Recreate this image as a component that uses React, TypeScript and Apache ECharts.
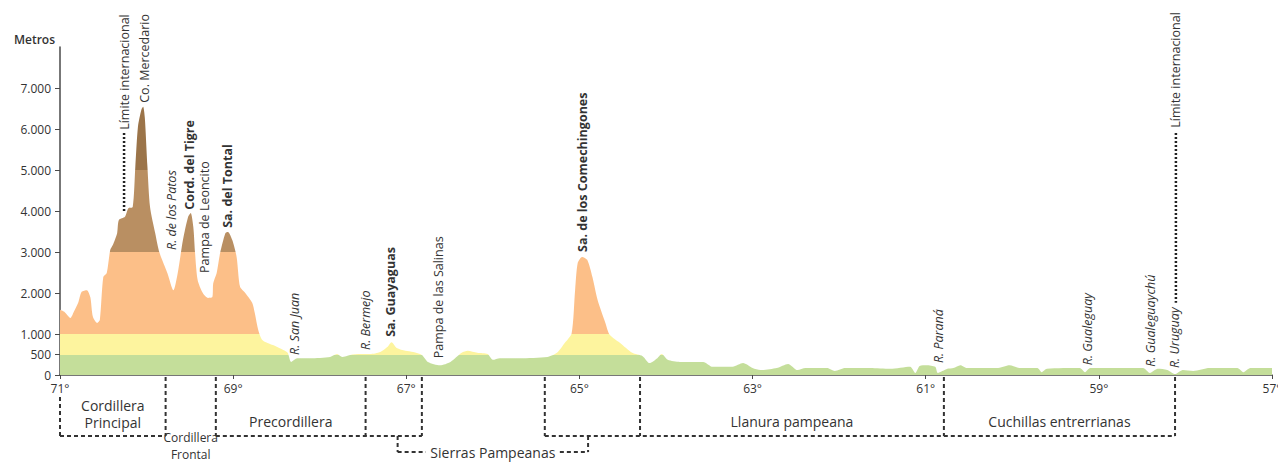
import React, { useEffect, useRef } from 'react';
import * as echarts from 'echarts';

// ---- Profile data: longitude (°W) and elevation (m) ----
const lon = [
  71.0, 70.95, 70.88, 70.84, 70.79, 70.75, 70.69, 70.65, 70.62, 70.57,
  70.54, 70.5, 70.46, 70.42, 70.39, 70.34, 70.32, 70.25, 70.21, 70.16,
  70.13, 70.1, 70.06, 70.04, 70.02, 69.99, 69.96, 69.9, 69.85, 69.76,
  69.69, 69.64, 69.58, 69.52, 69.49, 69.46, 69.44, 69.41, 69.35, 69.29,
  69.24, 69.23, 69.19, 69.15, 69.09, 69.06, 69.01, 68.96, 68.92, 68.86,
  68.78, 68.75, 68.71, 68.66, 68.54, 68.42, 68.37, 68.33, 68.26, 68.11,
  67.88, 67.8, 67.74, 67.65, 67.53, 67.42, 67.3, 67.22, 67.17, 67.11,
  67.01, 66.92, 66.82, 66.75, 66.61, 66.49, 66.36, 66.29, 66.18, 66.06,
  66.0, 65.92, 65.69, 65.37, 65.26, 65.17, 65.09, 65.05, 65.02, 64.97,
  64.91, 64.85, 64.79, 64.7, 64.65, 64.53, 64.39, 64.27, 64.19, 64.1,
  64.05, 63.98, 63.84, 63.57, 63.46, 63.23, 63.11, 63.0, 62.91, 62.72,
  62.59, 62.48, 62.39, 62.14, 62.05, 61.93, 61.64, 61.41, 61.18, 61.12,
  61.07, 60.99, 60.89, 60.86, 60.75, 60.68, 60.6, 60.52, 60.18, 60.03,
  59.91, 59.71, 59.66, 59.6, 59.22, 59.16, 59.1, 58.49, 58.41, 58.32,
  58.21, 58.12, 58.03, 57.91, 57.72, 57.4, 57.33, 57.25, 57.0
];
const elev = [
  1590, 1540, 1390, 1540, 1760, 2030, 2070, 1900, 1420, 1270,
  1340, 2390, 2490, 3050, 3170, 3460, 3780, 3860, 4070, 4100,
  5080, 6050, 6470, 6540, 6270, 5080, 4100, 3460, 2980, 2490,
  2070, 2490, 3290, 3860, 3950, 3610, 2980, 2320, 2000, 1880,
  1900, 2240, 2490, 2980, 3460, 3490, 3290, 2880, 2150, 2000,
  1760, 1510, 1100, 850, 730, 610, 540, 320, 410, 410,
  440, 510, 440, 490, 510, 510, 560, 680, 800, 660,
  590, 560, 490, 320, 240, 320, 540, 590, 540, 510,
  370, 410, 410, 440, 540, 780, 1020, 2070, 2730, 2880,
  2810, 2390, 1830, 1270, 980, 780, 540, 460, 290, 410,
  510, 370, 320, 320, 200, 200, 290, 170, 120, 170,
  270, 120, 170, 170, 100, 170, 170, 150, 200, 50,
  220, 240, 200, 50, 150, 170, 240, 170, 170, 240,
  170, 170, 70, 150, 170, 70, 170, 170, 50, 150,
  120, 20, 120, 100, 170, 170, 70, 170, 170
];

// ---- Axes ----
const xTickLon = [71, 69, 67, 65, 63, 61, 59, 57];
const yTicks = [0, 500, 1000, 2000, 3000, 4000, 5000, 6000, 7000];

// ---- Elevation bands ----
const bandMin = [0, 500, 1000, 3000, 5000];
const bandMax = [500, 1000, 3000, 5000, 9000];
const bandColor = ['#c4de9a', '#fdf49e', '#fcbf88', '#b98f62', '#9b7449'];

// ---- Place names (vertical labels): longitude, elevation of label foot ----
const placeNames = [
  'Límite internacional', 'Co. Mercedario', 'R. de los Patos', 'Cord. del Tigre',
  'Pampa de Leoncito', 'Sa. del Tontal', 'R. San Juan', 'R. Bermejo',
  'Sa. Guayaguas', 'Pampa de las Salinas', 'Sa. de los Comechingones', 'R. Paraná',
  'R. Gualeguay', 'R. Gualeguaychú', 'R. Uruguay', 'Límite internacional'
];
const placeLon = [70.26, 70.02, 69.71, 69.5, 69.33, 69.06, 68.29, 67.47, 67.18, 66.63, 64.96, 60.85, 59.13, 58.4, 58.13, 58.11];
const placeElev = [5980, 6640, 3050, 4030, 2490, 3590, 490, 610, 930, 410, 3000, 290, 240, 200, 170, 6030];
const placeKind = ['n', 'n', 'i', 'b', 'n', 'b', 'i', 'i', 'b', 'n', 'b', 'i', 'i', 'i', 'i', 'n'];

// ---- International limit leader lines ----
const limitLon = [70.26, 58.11];
const limitTop = [5900, 5900];
const limitBottom = [3950, 1760];

// ---- Physiographic regions below the axis ----
const boundaryLon = [71.0, 69.78, 69.2, 67.47, 66.82, 65.4, 64.3, 60.79, 58.12];
const regionNames = ['Cordillera\nPrincipal', 'Cordillera\nFrontal', 'Precordillera', 'Sierras Pampeanas', 'Llanura pampeana', 'Cuchillas entrerrianas'];
const regionFrom = [71.0, 69.78, 69.2, 67.1, 64.3, 60.79];
const regionTo = [69.78, 69.2, 67.47, 64.9, 60.79, 58.12];
const bottomSegFrom = [71.0, 69.2, 65.4];
const bottomSegTo = [69.78, 66.82, 58.12];

const FONT = '"Open Sans", "Noto Sans", sans-serif';
const TXT = '#333';
const AX = '#4a4a4a';

export default function App() {
  const ref = useRef<HTMLDivElement>(null);

  useEffect(() => {
    if (!ref.current) return;
    const chart = echarts.init(ref.current, null, { renderer: 'svg' });
    const data = lon.map((l, i) => [71 - l, elev[i]]);
    const option: any = {
      animation: false,
      grid: { left: 60, right: 6, top: 47, bottom: 88, outerBoundsMode: 'none' },
      xAxis: {
        type: 'value', min: 0, max: 14, interval: 2,
        axisLine: { lineStyle: { color: AX, width: 1.5 } },
        axisTick: { show: true, length: 4, lineStyle: { color: AX, width: 1 } },
        axisLabel: {
          customValues: xTickLon.map((l) => 71 - l),
          formatter: (v: number) => `${Math.round(71 - v)}°`,
          color: TXT, fontSize: 12, fontFamily: FONT, margin: 7
        },
        splitLine: { show: false }
      },
      yAxis: {
        type: 'value', min: 0, max: 8000,
        name: 'Metros', nameLocation: 'end', nameGap: 2,
        nameTextStyle: { color: TXT, fontSize: 12, fontWeight: 600, fontFamily: FONT, align: 'right', padding: [0, 5, 0, 0] },
        axisLine: { show: true, lineStyle: { color: AX, width: 1.5 } },
        axisTick: { show: true, length: 5, customValues: yTicks, lineStyle: { color: AX } },
        axisLabel: {
          customValues: yTicks,
          formatter: (v: number) => (v >= 1000 ? `${Math.floor(v / 1000)}.${String(v % 1000).padStart(3, '0')}` : `${v}`),
          color: TXT, fontSize: 12, fontFamily: FONT, margin: 9
        },
        splitLine: { show: false }
      },
      visualMap: {
        type: 'piecewise', show: false, dimension: 1, seriesIndex: 0,
        pieces: bandMin.map((m, i) => ({ gte: m, lt: bandMax[i], color: bandColor[i] }))
      },
      series: [{
        type: 'line', data, smooth: 0.25, showSymbol: false, silent: true,
        lineStyle: { width: 0, opacity: 0 },
        areaStyle: { opacity: 1 }
      }]
    };
    chart.setOption(option);

    const px = (l: number, e: number) => chart.convertToPixel({ gridIndex: 0 }, [71 - l, e]) as number[];
    const y0 = px(71, 0)[1];
    const g: any[] = [];

    // vertical place labels
    placeNames.forEach((n, i) => {
      const p = px(placeLon[i], placeElev[i]);
      g.push({
        type: 'text', x: p[0], y: p[1], rotation: Math.PI / 2, silent: true,
        style: {
          text: n, fill: TXT, fontSize: 12.5, fontFamily: FONT,
          fontWeight: placeKind[i] === 'b' ? 'bold' : 'normal',
          fontStyle: placeKind[i] === 'i' ? 'italic' : 'normal',
          align: 'left', verticalAlign: 'middle', textAlign: 'left', textVerticalAlign: 'middle'
        }
      });
    });

    // international limit dotted leaders
    limitLon.forEach((l, i) => {
      const a = px(l, limitTop[i]);
      const b = px(l, limitBottom[i]);
      g.push({ type: 'line', silent: true, shape: { x1: a[0], y1: a[1], x2: b[0], y2: b[1] }, style: { stroke: '#222', lineWidth: 2.5, lineDash: [2, 2] } });
    });

    // region boundaries
    const dash = { stroke: '#333', lineWidth: 2, lineDash: [4, 3] };
    const yBox = y0 + 61;
    boundaryLon.forEach((l, i) => {
      const x = px(l, 0)[0];
      g.push({ type: 'line', silent: true, shape: { x1: x, y1: i === 0 ? y0 + 22 : y0 + 2, x2: x, y2: yBox }, style: dash });
    });
    bottomSegFrom.forEach((l, i) => {
      const a = px(l, 0)[0];
      const b = px(bottomSegTo[i], 0)[0];
      g.push({ type: 'line', silent: true, shape: { x1: a, y1: yBox, x2: b, y2: yBox }, style: dash });
    });

    // Sierras Pampeanas bracket
    const sA = px(regionFrom[3], 0)[0];
    const sB = px(regionTo[3], 0)[0];
    const yBr = y0 + 77;
    const sMid = (sA + sB) / 2;
    g.push({ type: 'line', silent: true, shape: { x1: sA, y1: yBox, x2: sA, y2: yBr }, style: dash });
    g.push({ type: 'line', silent: true, shape: { x1: sB, y1: yBox, x2: sB, y2: yBr }, style: dash });
    g.push({ type: 'line', silent: true, shape: { x1: sA, y1: yBr, x2: sMid - 67, y2: yBr }, style: dash });
    g.push({ type: 'line', silent: true, shape: { x1: sMid + 67, y1: yBr, x2: sB, y2: yBr }, style: dash });

    // region names
    const regionY = [y0 + 38.5, y0 + 71, y0 + 46, yBr, y0 + 46, y0 + 46];
    regionNames.forEach((n, i) => {
      const a = px(regionFrom[i], 0)[0];
      const b = px(regionTo[i], 0)[0];
      g.push({
        type: 'text', x: (a + b) / 2, y: regionY[i], silent: true,
        style: {
          text: n, fill: TXT, fontSize: i === 1 ? 12 : 14, fontFamily: FONT, lineHeight: i === 1 ? 16.5 : 17,
          align: 'center', verticalAlign: 'middle', textAlign: 'center', textVerticalAlign: 'middle'
        }
      });
    });

    chart.setOption({ graphic: { elements: g } });
    return () => chart.dispose();
  }, []);

  return <div ref={ref} style={{ position: 'absolute', left: 0, top: 0, width: 1278, height: 463 }} />;
}
